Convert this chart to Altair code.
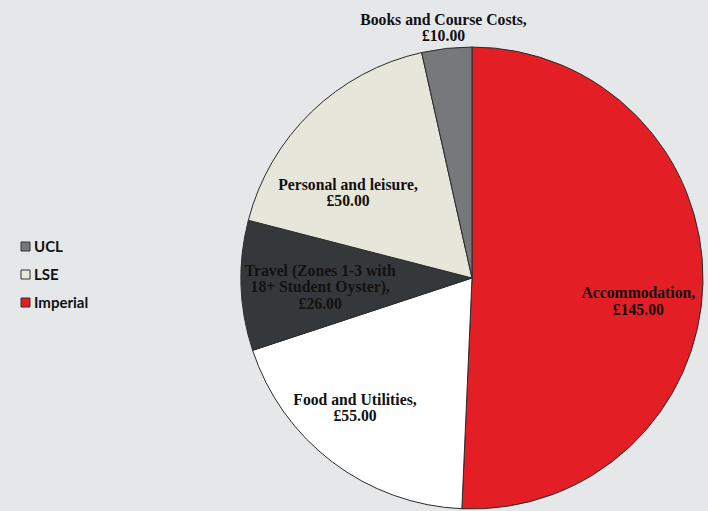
import altair as alt
import pandas as pd

# Slice data (clockwise from 12 o'clock)
categories = [
    "Accommodation",
    "Food and Utilities",
    "Travel (Zones 1-3 with 18+ Student Oyster)",
    "Personal and leisure",
    "Books and Course Costs",
]
values = [145, 55, 26, 50, 10]
labels = [
    "Accommodation,\n£145.00",
    "Food and Utilities,\n£55.00",
    "Travel (Zones 1-3 with\n18+ Student Oyster),\n£26.00",
    "Personal and leisure,\n£50.00",
    "Books and Course Costs,\n£10.00",
]
slice_colors = ["#e31e25", "#ffffff", "#35383b", "#e7e6da", "#76787b"]

# Legend entries shown in the original
legend_names = ["UCL", "LSE", "Imperial"]
legend_colors = ["#76787b", "#e9e8dc", "#e31e25"]

df = pd.DataFrame({
    "category": categories,
    "value": values,
    "label": labels,
    "idx": list(range(len(categories))),
})
legend_df = pd.DataFrame({"school": legend_names})

theta_scale = alt.Scale(domain=[0, sum(values)])

pie = alt.Chart(df).mark_arc(radius=231, stroke="#2b2b2b", strokeWidth=1).encode(
    theta=alt.Theta("value:Q", stack=True, scale=theta_scale),
    order=alt.Order("idx:Q"),
    color=alt.Color(
        "category:N",
        scale=alt.Scale(domain=categories, range=slice_colors),
        legend=None,
    ),
)

# label placement (best-fit style nudges, layout only)
text = alt.Chart(df).transform_window(
    cum="sum(value)", sort=[alt.SortField("idx")], frame=[None, 0]
).transform_calculate(
    mid="datum.cum - datum.value / 2 + [3.1, 5.3, 3.6, -7.2, 0][datum.idx]",
    r="[167, 169, 152, 155, 260][datum.idx]",
).mark_text(
    font="Liberation Serif",
    fontWeight="bold",
    fontSize=15.7,
    lineHeight=16.5,
    lineBreak="\n",
    color="#111111",
    align="center",
    baseline="middle",
).encode(
    theta=alt.Theta("mid:Q", stack=None, scale=theta_scale),
    radius=alt.Radius("r:Q", scale=None),
    text="label:N",
)

legend_layer = alt.Chart(legend_df).mark_square(opacity=0).encode(
    color=alt.Color(
        "school:N",
        scale=alt.Scale(domain=legend_names, range=legend_colors),
        legend=alt.Legend(
            title=None,
            orient="none",
            legendX=-218,
            legendY=192,
            labelFont="Lato",
            labelFontWeight="bold",
            labelFontSize=15,
            labelColor="#111111",
            labelOffset=1,
            symbolType="square",
            symbolSize=81,
            symbolOpacity=1,
            symbolStrokeColor="#333333",
            symbolStrokeWidth=1,
            rowPadding=12,
        ),
    )
)

chart = alt.layer(pie, text, legend_layer).resolve_scale(
    color="independent"
).properties(
    width=472,
    height=462,
    background="#e6e7e9",
    padding={"left": 236, "top": 47, "right": 0, "bottom": 2},
    autosize=alt.AutoSizeParams(type="none"),
).configure_view(stroke=None)

chart.save("out.html", embed_options={"renderer": "svg", "actions": False})
